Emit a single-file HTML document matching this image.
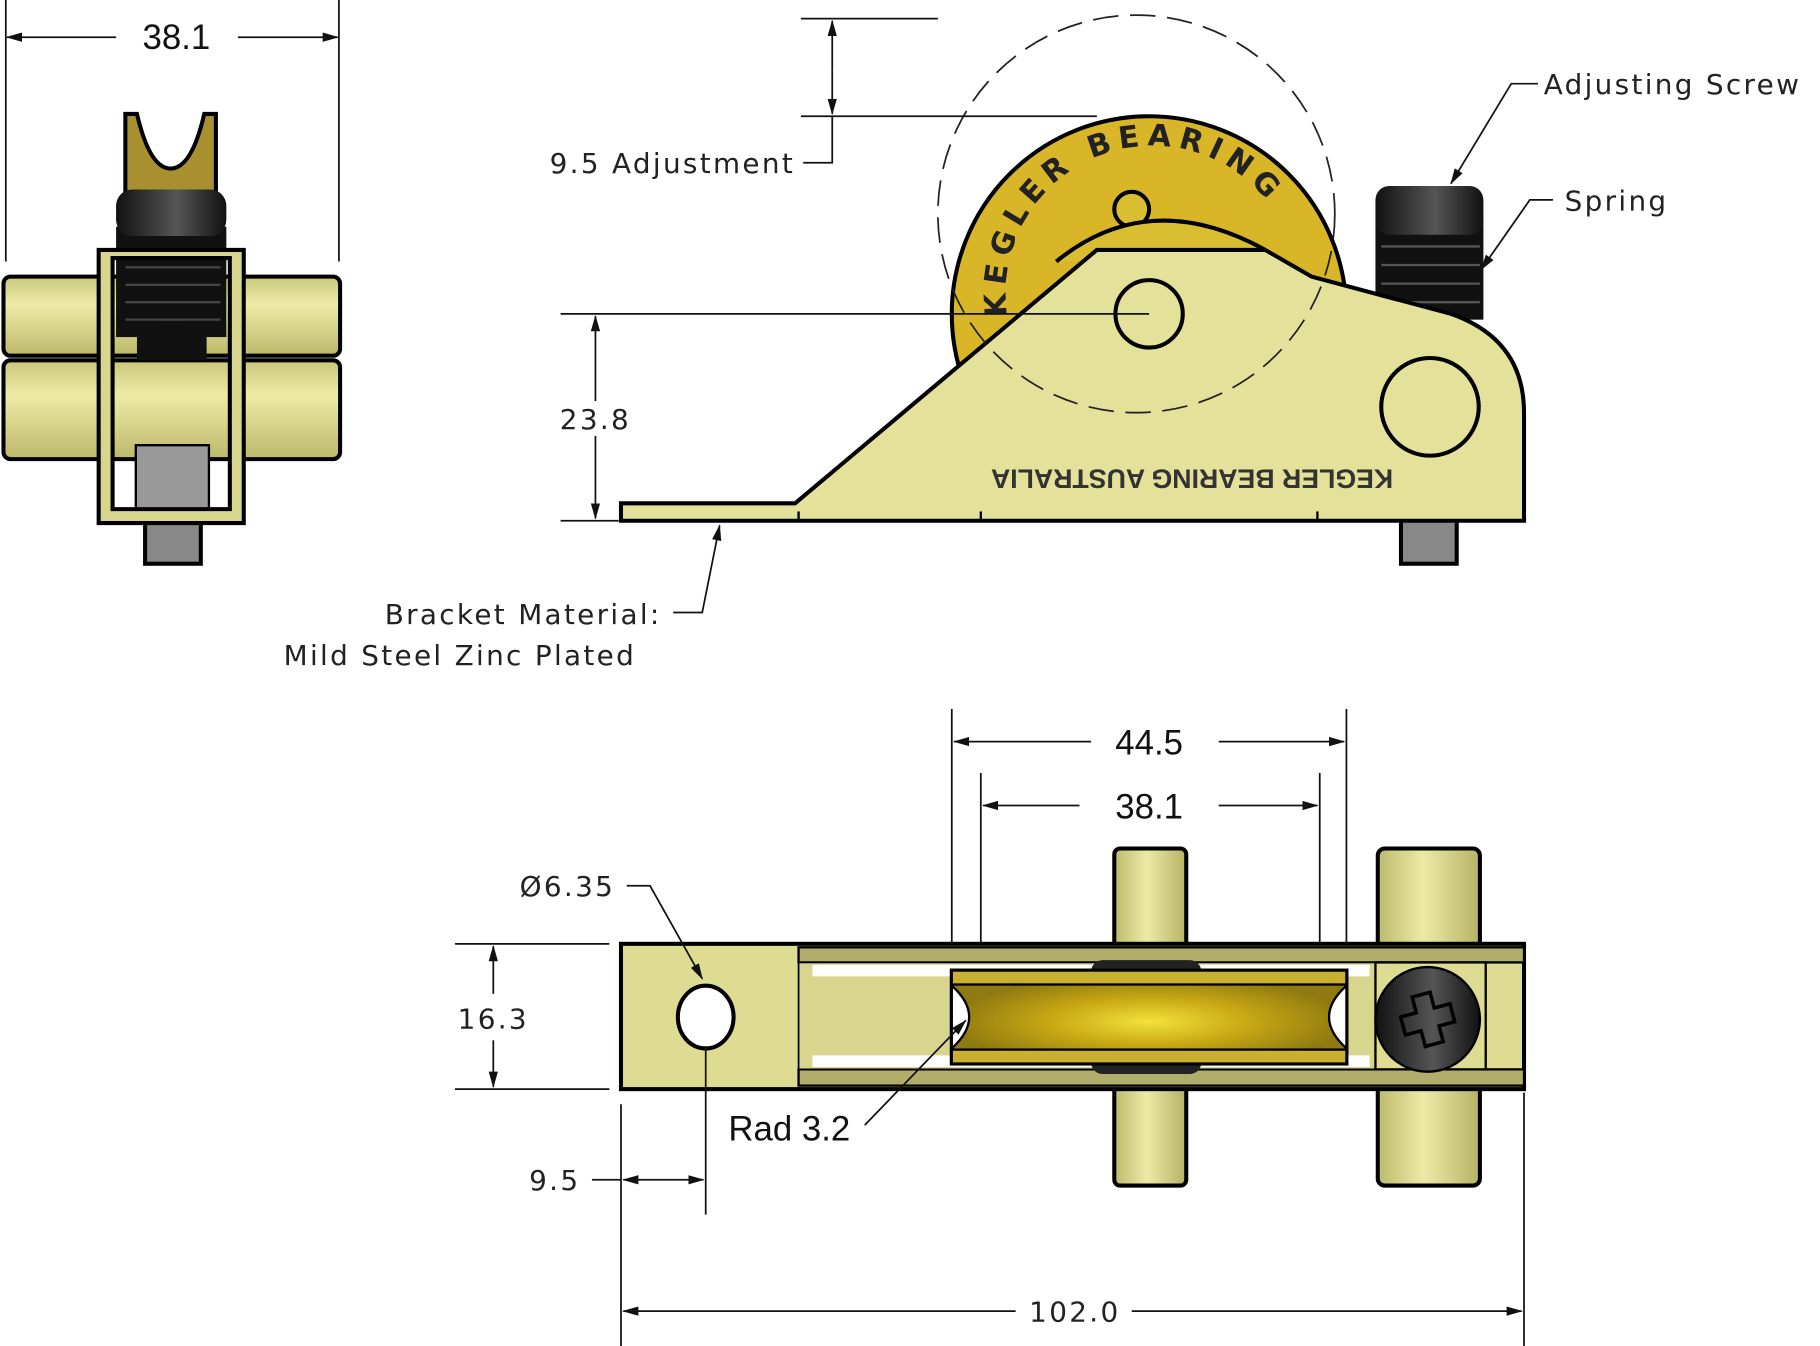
<!DOCTYPE html>
<html><head><meta charset="utf-8"><style>
html,body{margin:0;padding:0;background:#fff;}
svg{display:block;}
.dim{font-family:"Liberation Sans",sans-serif;font-size:30px;fill:#111;}
.lbl{font-family:"DejaVu Sans","Liberation Sans",sans-serif;font-size:24px;fill:#222;letter-spacing:2px;}
.ln{stroke:#111;stroke-width:1.5;fill:none;}
.ob{stroke:#000;stroke-width:3.5;}
</style></head><body>
<svg width="1820" height="1346" viewBox="0 0 1568 1158" preserveAspectRatio="none" xmlns="http://www.w3.org/2000/svg">
<defs>
<marker id="a" markerWidth="14" markerHeight="10" refX="13" refY="5" orient="auto" markerUnits="userSpaceOnUse"><path d="M0,1 L14,5 L0,9 Z" fill="#111"/></marker>
<linearGradient id="cyl" x1="0" y1="0" x2="0" y2="1"><stop offset="0" stop-color="#c9c77a"/><stop offset="0.35" stop-color="#eeeba8"/><stop offset="1" stop-color="#bcb96a"/></linearGradient>
<linearGradient id="cylv" x1="0" y1="0" x2="1" y2="0"><stop offset="0" stop-color="#bdbb6c"/><stop offset="0.45" stop-color="#eceaa6"/><stop offset="1" stop-color="#b6b365"/></linearGradient>
<radialGradient id="whl" cx="0.5" cy="0.55" r="0.5"><stop offset="0" stop-color="#f2e23a"/><stop offset="0.5" stop-color="#c9a814"/><stop offset="1" stop-color="#8e7a10"/></radialGradient>
<linearGradient id="blk" x1="0" y1="0" x2="1" y2="0"><stop offset="0" stop-color="#111"/><stop offset="0.55" stop-color="#555"/><stop offset="1" stop-color="#111"/></linearGradient>
<path id="arc" d="M868,272 A124,124 0 0 1 1118,232"/>
</defs>

<!-- LEFT VIEW -->
<line class="ln" x1="5" y1="0" x2="5" y2="225"/>
<line class="ln" x1="292" y1="0" x2="292" y2="225"/>
<line class="ln" x1="100" y1="32" x2="6" y2="32" marker-end="url(#a)"/>
<line class="ln" x1="205" y1="32" x2="291" y2="32" marker-end="url(#a)"/>
<text class="dim" x="152" y="42" text-anchor="middle">38.1</text>
<rect x="3" y="238" width="290" height="68" rx="6" fill="url(#cyl)" class="ob"/>
<rect x="3" y="310" width="290" height="85" rx="6" fill="url(#cyl)" class="ob"/>
<path d="M108,98 L108,170 L186,170 L186,98 L176,98 Q165,145 147,145 Q129,145 118,98 Z" fill="#a89030" class="ob" stroke-width="3"/>
<rect x="125" y="440" width="48" height="45" fill="#888" class="ob" stroke-width="3"/>
<rect x="100" y="195" width="95" height="95" fill="#111"/>
<path d="M118,290 Q148,270 178,290 L178,310 L118,310 Z" fill="#111"/>
<rect x="100" y="163" width="95" height="40" rx="14" fill="url(#blk)"/>
<g stroke="#444" stroke-width="2"><line x1="108" y1="215" x2="190" y2="215"/><line x1="108" y1="230" x2="190" y2="230"/><line x1="108" y1="245" x2="190" y2="245"/><line x1="108" y1="260" x2="190" y2="260"/><line x1="108" y1="275" x2="190" y2="275"/></g>
<rect x="117" y="383" width="63" height="55" fill="#999" stroke="#000" stroke-width="2"/>
<path d="M85,215 L210,215 L210,450 L85,450 Z M97,222 L97,438 L198,438 L198,222 Z" fill="#d8d68e" fill-rule="evenodd" class="ob" stroke-width="3"/>

<!-- TOP RIGHT VIEW -->
<circle cx="990" cy="270" r="170" fill="#d8b628" class="ob" stroke-width="3"/>
<text font-family="DejaVu Sans,sans-serif" font-size="26" font-weight="bold" fill="#222" letter-spacing="6"><textPath href="#arc">KEGLER BEARING</textPath></text>
<circle cx="975" cy="180" r="15" fill="#d8be30" class="ob" stroke-width="3"/>
<path d="M910,225 Q990,160 1090,215" fill="#d8be30" class="ob" stroke-width="3"/>
<rect x="1185" y="190" width="93" height="85" fill="#111"/>
<rect x="1185" y="160" width="93" height="42" rx="12" fill="url(#blk)"/>
<g stroke="#555" stroke-width="2"><line x1="1190" y1="212" x2="1275" y2="212"/><line x1="1190" y1="228" x2="1275" y2="228"/><line x1="1190" y1="244" x2="1275" y2="244"/><line x1="1190" y1="260" x2="1275" y2="260"/></g>
<rect x="1207" y="445" width="48" height="40" fill="#888" class="ob" stroke-width="3"/>
<path d="M535,433 L685,433 L945,215 L1090,215 L1130,238 L1250,270 Q1313,292 1313,355 L1313,448 L535,448 Z" fill="#e4e29a" class="ob" stroke-width="3"/>
<circle cx="990" cy="270" r="29" fill="none" class="ob"/>
<circle cx="1232" cy="350" r="42" fill="none" class="ob"/>
<text x="-1027" y="-404" transform="rotate(180)" text-anchor="middle" font-family="Liberation Sans,sans-serif" font-size="23" font-weight="bold" fill="#333">KEGLER BEARING AUSTRALIA</text>
<g stroke="#000" stroke-width="2"><line x1="688" y1="440" x2="688" y2="448"/><line x1="845" y1="440" x2="845" y2="448"/><line x1="1135" y1="440" x2="1135" y2="448"/></g>
<circle cx="979" cy="184" r="171" fill="none" stroke="#222" stroke-width="1.5" stroke-dasharray="22,10"/>
<!-- 23.8 -->
<line class="ln" x1="483" y1="270" x2="990" y2="270"/>
<line class="ln" x1="483" y1="448" x2="533" y2="448"/>
<line class="ln" x1="513" y1="345" x2="513" y2="272" marker-end="url(#a)"/>
<line class="ln" x1="513" y1="375" x2="513" y2="446" marker-end="url(#a)"/>
<text class="lbl" x="513" y="369" text-anchor="middle">23.8</text>
<!-- 9.5 adjustment -->
<line class="ln" x1="690" y1="16" x2="808" y2="16"/>
<line class="ln" x1="690" y1="100" x2="945" y2="100"/>
<line class="ln" x1="717" y1="60" x2="717" y2="18" marker-end="url(#a)"/>
<line class="ln" x1="717" y1="60" x2="717" y2="98" marker-end="url(#a)"/>
<polyline class="ln" points="717,100 717,140 692,140"/>
<text class="lbl" x="685" y="149" text-anchor="end">9.5 Adjustment</text>
<!-- labels -->
<polyline class="ln" points="1325,72 1302,72 1250,158" marker-end="url(#a)"/>
<text class="lbl" x="1330" y="81">Adjusting Screw</text>
<polyline class="ln" points="1338,172 1318,172 1276,232" marker-end="url(#a)"/>
<text class="lbl" x="1348" y="181">Spring</text>
<polyline class="ln" points="580,527 605,527 620,452" marker-end="url(#a)"/>
<text class="lbl" x="570" y="537" text-anchor="end">Bracket Material:</text>
<text class="lbl" x="548" y="572" text-anchor="end">Mild Steel Zinc Plated</text>

<!-- BOTTOM VIEW -->
<line class="ln" x1="820" y1="610" x2="820" y2="830"/>
<line class="ln" x1="1160" y1="610" x2="1160" y2="830"/>
<line class="ln" x1="940" y1="638" x2="822" y2="638" marker-end="url(#a)"/>
<line class="ln" x1="1050" y1="638" x2="1158" y2="638" marker-end="url(#a)"/>
<text class="dim" x="990" y="649" text-anchor="middle">44.5</text>
<line class="ln" x1="845" y1="665" x2="845" y2="830"/>
<line class="ln" x1="1137" y1="665" x2="1137" y2="830"/>
<line class="ln" x1="930" y1="693" x2="847" y2="693" marker-end="url(#a)"/>
<line class="ln" x1="1050" y1="693" x2="1135" y2="693" marker-end="url(#a)"/>
<text class="dim" x="990" y="704" text-anchor="middle">38.1</text>
<rect x="960" y="730" width="62" height="290" rx="5" fill="url(#cylv)" class="ob" stroke-width="3"/>
<rect x="1187" y="730" width="88" height="290" rx="6" fill="url(#cylv)" class="ob" stroke-width="3"/>
<rect x="535" y="812" width="778" height="125" fill="#dedc92" class="ob" stroke-width="3"/>
<rect x="688" y="815" width="625" height="13" fill="#b0ae6a" stroke="#000" stroke-width="2"/>
<rect x="688" y="920" width="625" height="14" fill="#b0ae6a" stroke="#000" stroke-width="2"/>
<rect x="688" y="828" width="500" height="92" fill="#d8d68e" stroke="#000" stroke-width="1.5"/>
<rect x="700" y="830" width="480" height="10" fill="#fff"/>
<rect x="700" y="908" width="480" height="10" fill="#fff"/>
<rect x="940" y="826" width="95" height="98" rx="10" fill="#222"/>
<rect x="820" y="835" width="340" height="80" fill="url(#whl)" class="ob" stroke-width="3"/>
<rect x="820" y="835" width="340" height="12" fill="#c9b030" stroke="#000" stroke-width="2"/>
<rect x="820" y="903" width="340" height="12" fill="#c9b030" stroke="#000" stroke-width="2"/>
<path d="M820,848 Q850,875 820,902 Z" fill="#fff" stroke="#000" stroke-width="2"/>
<path d="M1160,848 Q1130,875 1160,902 Z" fill="#fff" stroke="#000" stroke-width="2"/>
<rect x="1185" y="828" width="95" height="92" fill="#dedc92" stroke="#000" stroke-width="2"/>
<circle cx="1230" cy="877" r="45" fill="url(#blk)" stroke="#000" stroke-width="2"/>
<path d="M1222,855 h16 v14 h14 v16 h-14 v14 h-16 v-14 h-14 v-16 h14 Z" fill="none" stroke="#000" stroke-width="3" transform="rotate(-15 1230 877)"/>
<ellipse cx="608" cy="875" rx="24" ry="27" fill="#fff" class="ob"/>
<!-- 16.3 -->
<line class="ln" x1="392" y1="812" x2="525" y2="812"/>
<line class="ln" x1="392" y1="937" x2="525" y2="937"/>
<line class="ln" x1="425" y1="855" x2="425" y2="814" marker-end="url(#a)"/>
<line class="ln" x1="425" y1="895" x2="425" y2="935" marker-end="url(#a)"/>
<text class="lbl" x="425" y="885" text-anchor="middle">16.3</text>
<polyline class="ln" points="540,762 560,762 605,842" marker-end="url(#a)"/>
<text class="lbl" x="530" y="771" text-anchor="end">Ø6.35</text>
<line class="ln" x1="745" y1="968" x2="832" y2="878" marker-end="url(#a)"/>
<text class="dim" x="680" y="981" text-anchor="middle">Rad 3.2</text>
<!-- 9.5 -->
<line class="ln" x1="535" y1="950" x2="535" y2="1160"/>
<line class="ln" x1="608" y1="900" x2="608" y2="1045"/>
<line class="ln" x1="572" y1="1015" x2="537" y2="1015" marker-end="url(#a)"/>
<line class="ln" x1="572" y1="1015" x2="606" y2="1015" marker-end="url(#a)"/>
<line class="ln" x1="510" y1="1015" x2="535" y2="1015"/>
<text class="lbl" x="500" y="1024" text-anchor="end">9.5</text>
<!-- 102.0 -->
<line class="ln" x1="1313" y1="940" x2="1313" y2="1160"/>
<line class="ln" x1="875" y1="1128" x2="537" y2="1128" marker-end="url(#a)"/>
<line class="ln" x1="975" y1="1128" x2="1311" y2="1128" marker-end="url(#a)"/>
<text class="lbl" x="926" y="1137" text-anchor="middle">102.0</text>
</svg>
</body></html>
